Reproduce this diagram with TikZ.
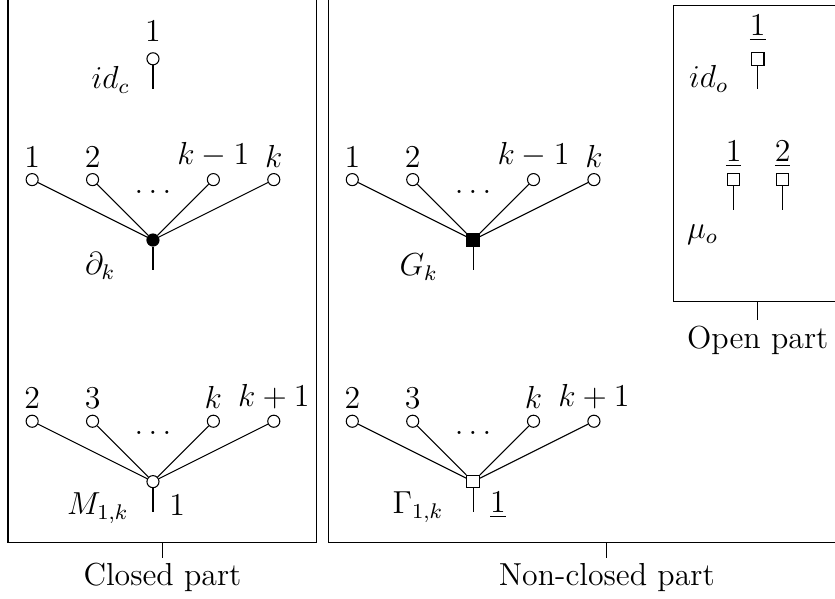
\documentclass[12pt,tikz,border=0pt]{standalone}
\usetikzlibrary{positioning}

\begin{document}
\begin{tikzpicture}[
  leaf/.style={circle, draw, fill=white, inner sep=0pt, minimum size=1.6mm},
  croot/.style={circle, draw, fill=black, inner sep=0pt, minimum size=1.6mm},
  mroot/.style={circle, draw, fill=white, inner sep=0pt, minimum size=1.6mm},
  groot/.style={rectangle, draw, fill=black, inner sep=0pt, minimum size=1.65mm},
  oroot/.style={rectangle, draw, fill=white, inner sep=0pt, minimum size=1.65mm},
  partbox/.style={draw, inner sep=0pt},
  partlbl/.style={inner sep=2pt},
  tag/.style={inner sep=2pt}
]
\useasboundingbox (-2.026,-4.742) rectangle (9.033,3.179);
\clip (-2.026,-4.742) rectangle (9.033,3.179);

% Frames
\node[partbox, minimum width=40.9mm, minimum height=74mm] (closedbox) at (0.125,-0.3) {};
\node[partbox, minimum width=73.6mm, minimum height=74mm] (nonclosedbox) at (6.01,-0.3) {};
\node[partbox, fill=white, minimum width=22.4mm, minimum height=39.2mm] (openbox) at (8.01,1.15) {};

\node[partlbl, below=2mm of closedbox.south, anchor=north] (closedlbl) {Closed part};
\node[partlbl, below=2mm of nonclosedbox.south, anchor=north] (nonclosedlbl) {Non-closed part};
\node[partlbl, below=2.4mm of openbox.south, anchor=north] (openlbl) {Open part};
\draw (closedbox.south) -- (closedlbl.north);
\draw (nonclosedbox.south) -- (nonclosedlbl.north);
\draw (openbox.south) -- (openlbl.north);

% Closed part: identity
\node[leaf, label={above:$1$}] (idc) at (0,2.4) {};
\coordinate (idcstem) at (0,2.0);
\node (idclbl) at (-0.56,2.12) {$id_c$};
\draw (idc) -- (idcstem);

% Closed part: boundary operation
\node[croot] (dk) at (0,0) {};
\node[leaf, label={[tag]above:$1$}] (dk1) at (-1.6,0.8) {};
\node[leaf, label={[tag]above:$2$}] (dk2) at (-0.8,0.8) {};
\node[leaf, label={[tag]above:$k-1$}] (dk3) at (0.8,0.8) {};
\node[leaf, label={[tag]above:$k$}] (dk4) at (1.6,0.8) {};
\node (dkdots) at (0,0.64) {$\dots$};
\coordinate (dkstem) at (0,-0.4);
\node (dklbl) at (-0.70,-0.34) {$\partial_k$};
\draw (dk) -- (dk1);
\draw (dk) -- (dk2);
\draw (dk) -- (dk3);
\draw (dk) -- (dk4);
\draw (dk) -- (dkstem);

% Closed part: module operation
\node[mroot] (mk) at (0,-3.2) {};
\node[leaf, label={[tag]above:$2$}] (mk1) at (-1.6,-2.4) {};
\node[leaf, label={[tag]above:$3$}] (mk2) at (-0.8,-2.4) {};
\node[leaf, label={[tag]above:$k$}] (mk3) at (0.8,-2.4) {};
\node[leaf, label={[tag]above:$k+1$}] (mk4) at (1.6,-2.4) {};
\node (mkdots) at (0,-2.56) {$\dots$};
\coordinate (mkstem) at (0,-3.6);
\node (mklbl) at (-0.73,-3.55) {$M_{1,k}$};
\node (mkout) at (0.32,-3.51) {$1$};
\draw (mk) -- (mk1);
\draw (mk) -- (mk2);
\draw (mk) -- (mk3);
\draw (mk) -- (mk4);
\draw (mk) -- (mkstem);

% Non-closed part: G_k
\node[groot] (gk) at (4.24,0) {};
\node[leaf, label={[tag]above:$1$}] (gk1) at (2.64,0.8) {};
\node[leaf, label={[tag]above:$2$}] (gk2) at (3.44,0.8) {};
\node[leaf, label={[tag]above:$k-1$}] (gk3) at (5.04,0.8) {};
\node[leaf, label={[tag]above:$k$}] (gk4) at (5.84,0.8) {};
\node (gkdots) at (4.24,0.64) {$\dots$};
\coordinate (gkstem) at (4.24,-0.4);
\node (gklbl) at (3.52,-0.36) {$G_k$};
\draw (gk) -- (gk1);
\draw (gk) -- (gk2);
\draw (gk) -- (gk3);
\draw (gk) -- (gk4);
\draw (gk) -- (gkstem);

% Non-closed part: Gamma_{1,k}
\node[oroot] (gam) at (4.24,-3.2) {};
\node[leaf, label={[tag]above:$2$}] (gam1) at (2.64,-2.4) {};
\node[leaf, label={[tag]above:$3$}] (gam2) at (3.44,-2.4) {};
\node[leaf, label={[tag]above:$k$}] (gam3) at (5.04,-2.4) {};
\node[leaf, label={[tag]above:$k+1$}] (gam4) at (5.84,-2.4) {};
\node (gamdots) at (4.24,-2.56) {$\dots$};
\coordinate (gamstem) at (4.24,-3.6);
\node (gamlbl) at (3.51,-3.54) {$\Gamma_{1,k}$};
\node (gamout) at (4.57,-3.51) {$\underline{1}$};
\draw (gam) -- (gam1);
\draw (gam) -- (gam2);
\draw (gam) -- (gam3);
\draw (gam) -- (gam4);
\draw (gam) -- (gamstem);

% Open part
\node[oroot, label={above:$\underline{1}$}] (ido) at (8.01,2.4) {};
\coordinate (idostem) at (8.01,2.0);
\node (idolbl) at (7.36,2.13) {$id_o$};
\draw (ido) -- (idostem);

\node[oroot, label={[tag]above:$\underline{1}$}] (muo1) at (7.69,0.8) {};
\node[oroot, label={[tag]above:$\underline{2}$}] (muo2) at (8.34,0.8) {};
\coordinate (muo1stem) at (7.69,0.4);
\coordinate (muo2stem) at (8.34,0.4);
\node (muolbl) at (7.28,0.07) {$\mu_o$};
\draw (muo1) -- (muo1stem);
\draw (muo2) -- (muo2stem);

\end{tikzpicture}
\end{document}
